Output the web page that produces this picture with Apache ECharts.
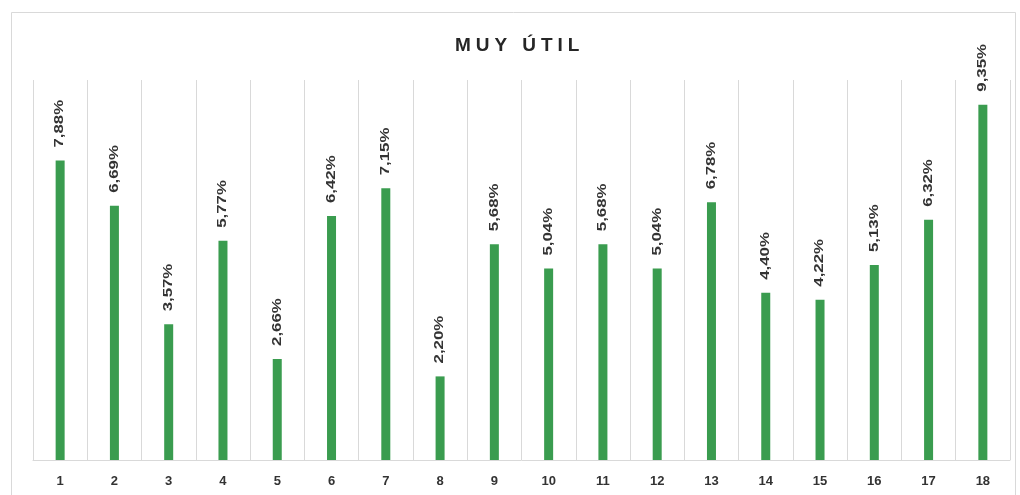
<!DOCTYPE html>
<html><head><meta charset="utf-8">
<script src="https://cdn.jsdelivr.net/npm/echarts@6/dist/echarts.min.js"></script>
<style>
html,body{margin:0;padding:0;background:#fff}
#wrap{position:relative;width:1020px;height:495px}
#c{width:1020px;height:495px}
#t{position:absolute;left:455px;top:35px;font:bold 19px/19px "Liberation Sans",Arial,sans-serif;letter-spacing:5px;color:#262626;white-space:nowrap}
</style>
</head><body><div id="wrap"><div id="c"></div><div id="t"></div></div>
<script>
const categories = ['1','2','3','4','5','6','7','8','9','10','11','12','13','14','15','16','17','18'];
const values = [7.88, 6.69, 3.57, 5.77, 2.66, 6.42, 7.15, 2.20, 5.68, 5.04, 5.68, 5.04, 6.78, 4.40, 4.22, 5.13, 6.32, 9.35];
const titleText = 'MUY ÚTIL';

document.getElementById('t').textContent = titleText;
const fmt = v => v.toFixed(2).replace('.', ',') + '%';

const chart = echarts.init(document.getElementById('c'));
chart.setOption({
  animation: false,
  backgroundColor: '#fff',
  graphic: [{
    type: 'rect', left: 9, top: 10, z: -1,
    shape: { width: 1004, height: 490 },
    style: { fill: 'none', stroke: '#d9d9d9', lineWidth: 1 }
  }],
  grid: { left: 33, right: 10, top: 80, bottom: 35 },
  xAxis: {
    type: 'category', data: categories,
    axisLine: { lineStyle: { color: '#d9d9d9' } },
    axisTick: { show: false },
    splitLine: { show: true, lineStyle: { color: '#d9d9d9' } },
    axisLabel: { margin: 15, fontFamily: 'Liberation Sans, Arial, sans-serif', fontSize: 13, fontWeight: 'bold', color: '#333' }
  },
  yAxis: { type: 'value', min: 0, max: 10, show: false, splitLine: { show: false } },
  series: [{
    type: 'bar', data: values, barWidth: 9,
    itemStyle: { color: '#3a9c4f' }
  }, {
    type: 'custom',
    data: values.map((v, i) => [i, v]),
    renderItem: (params, api) => {
      const p = api.coord([api.value(0), api.value(1)]);
      return {
        type: 'text', x: p[0], y: p[1] - 13, rotation: Math.PI / 2, scaleX: 1.4,
        style: {
          text: fmt(api.value(1)), align: 'left', verticalAlign: 'middle',
          fontFamily: 'Liberation Sans, Arial, sans-serif', fontSize: 12, fontWeight: 'bold', fill: '#333'
        }
      };
    }
  }]
});
</script></body></html>
